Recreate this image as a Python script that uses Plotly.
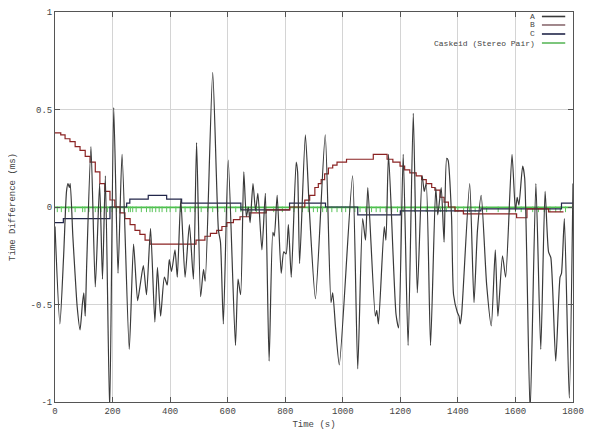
import plotly.graph_objects as go

# ---- Series A: noisy time-difference signal (peaks / troughs)
a_t = [0, 17, 30, 40, 45, 50, 53, 62, 70, 77, 87, 95, 100, 105, 110, 125, 140, 155, 165, 175,
       190, 204, 219, 233, 258, 273, 287, 296, 307, 318, 332, 347, 356, 367, 380, 390, 397, 405,
       417, 425, 437, 452, 467, 481, 492, 506, 516, 522, 548, 568, 575, 585, 602, 627, 636, 645,
       656, 665, 672, 678, 688, 697, 705, 719, 731, 744, 757, 762, 772, 786, 795, 803, 811, 821,
       838, 843, 850, 870, 884, 905, 939, 959, 965, 975, 988, 1034, 1052, 1069, 1079, 1087, 1113,
       1118, 1124, 1144, 1150, 1159, 1185, 1194, 1210, 1227, 1245, 1259, 1276, 1283, 1290, 1305,
       1323, 1330, 1342, 1352, 1361, 1366, 1378, 1385, 1398, 1404, 1408, 1413, 1441, 1456, 1468,
       1481, 1500, 1516, 1530, 1539, 1555, 1566, 1588, 1600, 1606, 1612, 1625, 1632, 1651, 1671,
       1688, 1703, 1715, 1723, 1740, 1755, 1760, 1770, 1787, 1800]
a_v = [-0.10, -0.60, -0.25, 0.08, 0.12, 0.10, 0.12, -0.15, -0.35, -0.51, -0.63, -0.50, -0.44,
       -0.56, -0.30, 0.31, -0.41, 0.12, -0.37, 0.16, -1.05, 0.51, -0.34, 0.27, -0.73, -0.19, -0.48,
       -0.40, -0.30, -0.45, -0.11, -0.59, -0.31, -0.56, -0.36, -0.40, -0.27, -0.33, -0.22, -0.36,
       0.04, -0.36, -0.09, -0.37, 0.33, -0.46, -0.32, -0.38, 0.69, -0.12, -0.18, -0.60, 0.24, -0.71,
       -0.37, -0.45, 0.18, -0.05, 0.00, -0.08, 0.12, -0.02, 0.07, -0.22, 0.07, -0.79, -0.13, -0.15,
       0.06, -0.34, -0.23, -0.24, -0.09, -0.36, 0.23, 0.18, -0.29, 0.37, -0.02, -0.47, 0.37, -0.49,
       -0.44, -0.62, -0.81, 0.16, -0.83, -0.06, -0.17, 0.10, -0.56, -0.53, -0.60, -0.10, -0.17, 0.27,
       -0.55, -0.62, 0.27, -0.71, 0.48, -0.44, 0.16, 0.08, 0.12, -0.71, 0.10, -0.04, 0.10, -0.18,
       0.25, 0.24, -0.05, -0.45, -0.54, -0.56, -0.60, -0.55, 0.12, -0.49, -0.12, 0.06, -0.40, -0.61,
       -0.22, -0.56, -0.25, -0.36, 0.27, -0.02, 0.05, 0.01, 0.21, 0.15, -1.05, 0.12, -0.73, 0.08,
       -0.23, -0.26, -0.79, -0.36, -0.34, -0.06, -0.98, 0.12]

# ---- Series B: slow staircase
b_t = [0, 20, 35, 52, 70, 87, 105, 122, 140, 156, 173, 191, 208, 226, 243, 261, 278, 295, 313,
       330, 490, 521, 540, 562, 580, 597, 620, 643, 677, 734, 816, 868, 885, 903, 915, 925, 937,
       950, 965, 980, 1013, 1106, 1154, 1174, 1199, 1215, 1233, 1255, 1274, 1290, 1309, 1320,
       1338, 1352, 1367, 1390, 1419, 1604, 1640, 1715, 1767]
b_v = [0.38, 0.37, 0.35, 0.335, 0.31, 0.29, 0.26, 0.23, 0.18, 0.12, 0.08, 0.036, 0.0, -0.03,
       -0.06, -0.09, -0.12, -0.14, -0.17, -0.19, -0.17, -0.15, -0.135, -0.12, -0.10, -0.08, -0.065,
       -0.05, -0.03, -0.015, 0.0, 0.035, 0.06, 0.10, 0.12, 0.14, 0.17, 0.20, 0.215, 0.23, 0.245,
       0.27, 0.245, 0.23, 0.21, 0.19, 0.175, 0.16, 0.14, 0.12, 0.10, 0.087, 0.05, 0.025, 0.0,
       -0.02, -0.035, -0.055, -0.01, -0.025, -0.025]

# ---- Series C: step line near zero
c_t = [0, 29, 191, 249, 260, 324, 388, 440, 646, 815, 940, 1052, 1200, 1480, 1760, 1800]
c_v = [-0.08, -0.06, 0.0, 0.02, 0.04, 0.06, 0.04, 0.02, -0.015, 0.02, 0.0, -0.04, -0.02,
       -0.01, 0.02, 0.02]

# ---- Caskeid (Stereo Pair): flat trace near zero with small downward ticks
g_t = [0, 1800]
g_v = [-0.002, -0.002]
g_tick_t = [8, 22, 36, 48, 70, 96, 104, 118, 140, 150, 160, 182, 198, 214, 240, 256, 262, 270,
            282, 300, 318, 330, 338, 350, 362, 372, 388, 400, 420, 436, 452, 470, 486, 508, 530,
            548, 566, 590, 610, 628, 646, 668, 684, 700, 730, 760, 790, 830, 846, 860, 880, 898,
            912, 930, 944, 962, 980, 996, 1010, 1024, 1042, 1060, 1080, 1100, 1116, 1130, 1150,
            1170, 1190, 1210, 1250, 1290, 1320, 1340, 1360, 1390, 1400, 1420, 1440, 1460, 1500,
            1540, 1580, 1600, 1620, 1660, 1680, 1700, 1720, 1740, 1756, 1774]
g_tick_v = [-0.012] * len(g_tick_t)

x_ticks = [0, 200, 400, 600, 800, 1000, 1200, 1400, 1600, 1800]
y_ticks = [-1, -0.5, 0, 0.5, 1]
y_tick_text = ["-1", "-0.5", "0", "0.5", "1"]

legend_names = ["A", "B", "C", "Caskeid (Stereo Pair)"]
legend_colors = ["#3a3a3a", "#8a6a70", "#22264a", "#5cb85c"]

FONT = "Liberation Mono"

fig = go.Figure()
fig.add_trace(go.Scatter(x=g_t, y=g_v, mode="lines", line=dict(color="#4cbf4c", width=1.8),
                         name="Caskeid (Stereo Pair)"))
fig.add_trace(go.Scatter(x=g_tick_t, y=g_tick_v, mode="markers",
                         marker=dict(symbol="line-ns", size=4, line=dict(color="#5cc45c", width=1)),
                         showlegend=False))
fig.add_trace(go.Scatter(x=c_t, y=c_v, mode="lines", line=dict(color="#22264a", width=1.2, shape="hv"),
                         name="C"))
fig.add_trace(go.Scatter(x=b_t, y=b_v, mode="lines", line=dict(color="#8b2323", width=1.2, shape="hv"),
                         name="B"))
fig.add_trace(go.Scatter(x=a_t, y=a_v, mode="lines",
                         line=dict(color="#3a3a3a", width=1.2, shape="spline", smoothing=0.6),
                         name="A"))

axis_common = dict(showgrid=True, gridcolor="#d4d4d4", gridwidth=1, zeroline=False,
                   showline=True, linecolor="#555555", linewidth=1, mirror="ticks",
                   ticks="inside", ticklen=5, tickcolor="#555555", automargin=False,
                   tickfont=dict(family=FONT, size=9, color="#444444"))

fig.update_xaxes(range=[0, 1800], tickvals=x_ticks,
                 title=dict(text="Time (s)", font=dict(family=FONT, size=9, color="#444444"), standoff=4),
                 **axis_common)
fig.update_yaxes(range=[-1, 1], tickvals=y_ticks, ticktext=y_tick_text,
                 title=dict(text="Time Difference (ms)", font=dict(family=FONT, size=9, color="#444444"), standoff=14),
                 **axis_common)

# gnuplot-style legend: text right-aligned, line sample on the right
rows_y = [0.9885, 0.9667, 0.9436, 0.9205]
for name, col, yy in zip(legend_names, legend_colors, rows_y):
    fig.add_annotation(x=0.9305, y=yy, xref="paper", yref="paper", text=name, showarrow=False,
                       xanchor="right", yanchor="middle", font=dict(family=FONT, size=8, color="#444444"))
    fig.add_shape(type="line", xref="paper", yref="paper", x0=0.940, x1=0.985, y0=yy, y1=yy,
                  line=dict(color=col, width=1.6))

# page body has an 8px default margin: size the figure so the plot area lands where the reference has it
fig.update_layout(width=592, height=424, margin=dict(l=47, r=27, t=4, b=30),
                  paper_bgcolor="white", plot_bgcolor="white", showlegend=False,
                  font=dict(family=FONT, size=9, color="#444444"))

fig.write_html("out.html")
